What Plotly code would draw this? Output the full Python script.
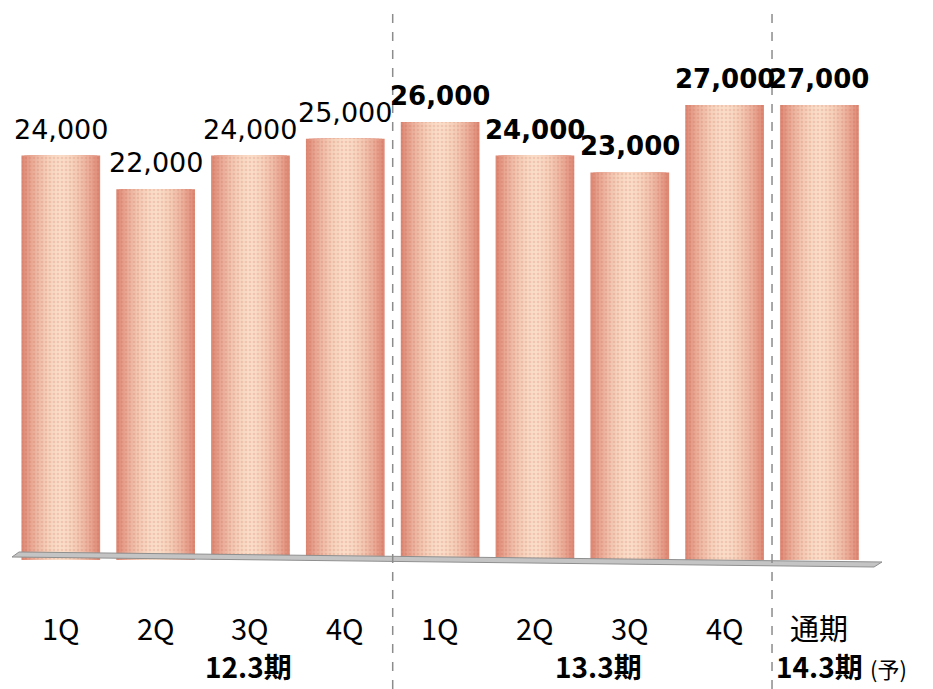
import plotly.graph_objects as go

# ---- data ----
quarters = ["1Q", "2Q", "3Q", "4Q", "1Q", "2Q", "3Q", "4Q", "通期"]
values = [24000, 22000, 24000, 25000, 26000, 24000, 23000, 27000, 27000]
periods = ["12.3期", "13.3期", "14.3期"]
period_note = "(予)"
bold_flags = [False, False, False, False, True, True, True, True, True]

W, H = 933, 689
PX_PER_UNIT = 94.83
FIRST_CENTER = 60.8
BASE_PX = 560.0
PX_PER_1000 = 16.85

x_pos = list(range(len(values)))
x0 = -FIRST_CENTER / PX_PER_UNIT
x1 = (W - FIRST_CENTER) / PX_PER_UNIT
ymax = BASE_PX / PX_PER_1000 * 1000

def px_to_paper_x(px):
    return px / W

def py_to_paper_y(py):
    return (BASE_PX - py) / BASE_PX

def px_to_x(px):
    return (px - FIRST_CENTER) / PX_PER_UNIT

def lerp_color(c1, c2, t):
    r = [round(a + (b - a) * t) for a, b in zip(c1, c2)]
    return "rgb(%d,%d,%d)" % tuple(r)

edge = (222, 138, 118)
center = (250, 222, 200)

fig = go.Figure()
N = 14
BW = 0.83
for k in range(N):
    frac = 1 - k / N
    w = BW * frac
    t = (1 - frac ** 1.8)
    col = lerp_color(edge, center, t)
    fig.add_trace(go.Bar(
        x=x_pos, y=values, width=w,
        marker=dict(color=col, line=dict(width=0),
                    pattern=dict(shape=".", size=4, solidity=0.35,
                                 fgcolor="rgba(200,90,70,0.35)")),
        hoverinfo="skip", showlegend=False,
    ))

fig.update_layout(
    barmode="overlay",
    width=W, height=H,
    margin=dict(l=0, r=0, t=0, b=H - BASE_PX),
    plot_bgcolor="white", paper_bgcolor="white",
    xaxis=dict(range=[x0, x1], visible=False, fixedrange=True),
    yaxis=dict(range=[0, ymax], visible=False, fixedrange=True),
    showlegend=False,
)

# floor slab
fl = [(19, 552), (882, 562), (874, 567), (12, 557)]
path = "M " + " L ".join("%f,%f" % (px_to_paper_x(a), py_to_paper_y(b)) for a, b in fl) + " Z"
fig.add_shape(type="path", path=path, xref="paper", yref="paper",
              fillcolor="#c4c4c4", line=dict(color="#8f8f8f", width=1), layer="above")

# dashed separators
for xs in [3.5, 7.5]:
    fig.add_shape(type="line", xref="x", yref="paper", x0=xs, x1=xs,
                  y0=py_to_paper_y(H), y1=py_to_paper_y(8),
                  line=dict(color="#8c8c8c", width=1.5, dash="dash"), layer="above")

# value labels
for xi, v, b in zip(x_pos, values, bold_flags):
    txt = "{:,}".format(v)
    if b:
        txt = "<b>" + txt + "</b>"
    fig.add_annotation(x=xi, y=v, xref="x", yref="y", text=txt, showarrow=False,
                       yanchor="bottom", yshift=9,
                       font=dict(family="DejaVu Sans", size=26 if b else 27, color="black"))

# category labels
for xi, q in zip(x_pos, quarters):
    fig.add_annotation(x=xi, y=py_to_paper_y(627), xref="x", yref="paper", text=q,
                       showarrow=False, yanchor="middle",
                       font=dict(family="Noto Sans CJK JP", size=29, color="black"))

# period labels
for px, p in zip([248, 598], periods[:2]):
    fig.add_annotation(x=px_to_x(px), y=py_to_paper_y(666), xref="x", yref="paper",
                       text="<b>" + p + "</b>", showarrow=False, yanchor="middle",
                       font=dict(family="Noto Sans CJK JP", size=28, color="black"))
fig.add_annotation(x=px_to_paper_x(774), y=py_to_paper_y(666), xref="paper", yref="paper",
                   text="<b>" + periods[2] + "</b>", showarrow=False, yanchor="middle",
                   xanchor="left",
                   font=dict(family="Noto Sans CJK JP", size=28, color="black"))
fig.add_annotation(x=px_to_paper_x(868), y=py_to_paper_y(668), xref="paper", yref="paper",
                   text=period_note, showarrow=False, yanchor="middle", xanchor="left",
                   font=dict(family="Noto Sans CJK JP", size=22, color="black"))

fig.write_html("out.html", config={"displayModeBar": False},
               post_script="document.body.style.margin='0';document.body.style.overflow='hidden';")
